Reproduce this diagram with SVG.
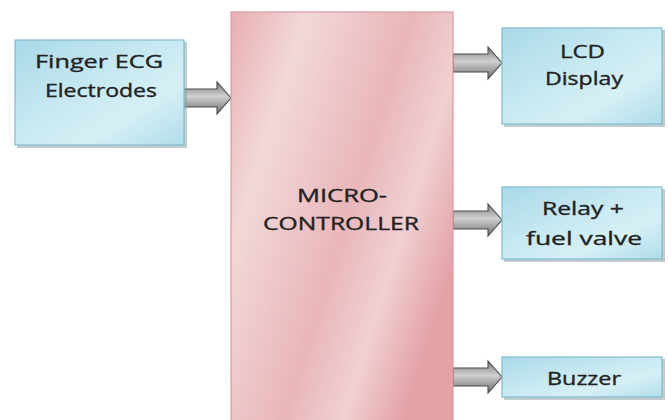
<svg xmlns="http://www.w3.org/2000/svg" width="668" height="420" viewBox="0 0 668 420">
<defs>
<linearGradient id="blueG" x1="0" y1="0" x2="1" y2="1">
<stop offset="0" stop-color="#a9d9e8"/>
<stop offset="0.45" stop-color="#c8e9f2"/>
<stop offset="0.7" stop-color="#d6eff5"/>
<stop offset="1" stop-color="#b0dcea"/>
</linearGradient>
<linearGradient id="pinkG" x1="0" y1="0" x2="1" y2="0.6">
<stop offset="0" stop-color="#e8aeb2"/>
<stop offset="0.25" stop-color="#f2d8d9"/>
<stop offset="0.6" stop-color="#e9b6ba"/>
<stop offset="0.8" stop-color="#f0d0d2"/>
<stop offset="1" stop-color="#e4a2a7"/>
</linearGradient>
<linearGradient id="arrowG" x1="0" y1="0" x2="0" y2="1">
<stop offset="0" stop-color="#7c7c7c"/>
<stop offset="0.45" stop-color="#d0d0d0"/>
<stop offset="1" stop-color="#6e6e6e"/>
</linearGradient>
<path id="arr" d="M0,-9 L35,-9 L35,-16 L49,0 L35,16 L35,9 L0,9 Z"/>
</defs>
<style>
.box{fill:url(#blueG);stroke:#7fbcd0;stroke-width:1.2}
.shadow{fill:#8fa2a8;opacity:0.55}
.mcu{fill:url(#pinkG);stroke:#dd9aa0;stroke-width:1.2}
.arrow{fill:url(#arrowG);stroke:#4a4a4a;stroke-width:1.1}
text{font-family:"Open Sans","DejaVu Sans",sans-serif;font-size:18px;fill:#222;stroke:#222;stroke-width:0.35;text-anchor:start}
</style>
<rect width="668" height="420" fill="#ffffff"/>

<g id="connectors">
<use href="#arr" class="arrow" transform="translate(182,98)"/>
<use href="#arr" class="arrow" transform="translate(453,63)"/>
<use href="#arr" class="arrow" transform="translate(453,220)"/>
<use href="#arr" class="arrow" transform="translate(453,377)"/>
</g>

<g id="finger-ecg">
<rect class="shadow" x="17" y="42" width="170" height="106"/>
<rect class="box" x="15" y="40" width="169" height="105"/>
<text x="35" y="68" textLength="128" lengthAdjust="spacingAndGlyphs">Finger ECG</text>
<text x="45" y="97" textLength="112" lengthAdjust="spacingAndGlyphs">Electrodes</text>
</g>

<g id="microcontroller">
<rect class="mcu" x="231" y="12" width="222" height="420"/>
<text x="297" y="202" textLength="90" lengthAdjust="spacingAndGlyphs">MICRO-</text>
<text x="263" y="230" textLength="156" lengthAdjust="spacingAndGlyphs">CONTROLLER</text>
</g>

<g id="lcd">
<rect class="shadow" x="504" y="30" width="161" height="97"/>
<rect class="box" x="502" y="28" width="160" height="96"/>
<text x="560" y="58" textLength="45" lengthAdjust="spacingAndGlyphs">LCD</text>
<text x="545" y="85" textLength="78" lengthAdjust="spacingAndGlyphs">Display</text>
</g>

<g id="relay">
<rect class="shadow" x="504" y="189" width="161" height="73"/>
<rect class="box" x="502" y="187" width="160" height="72"/>
<text x="542" y="215" textLength="82" lengthAdjust="spacingAndGlyphs">Relay +</text>
<text x="526" y="245" textLength="116" lengthAdjust="spacingAndGlyphs">fuel valve</text>
</g>

<g id="buzzer">
<rect class="shadow" x="504" y="359" width="161" height="41"/>
<rect class="box" x="502" y="357" width="160" height="40"/>
<text x="547" y="385" textLength="74" lengthAdjust="spacingAndGlyphs">Buzzer</text>
</g>
</svg>
